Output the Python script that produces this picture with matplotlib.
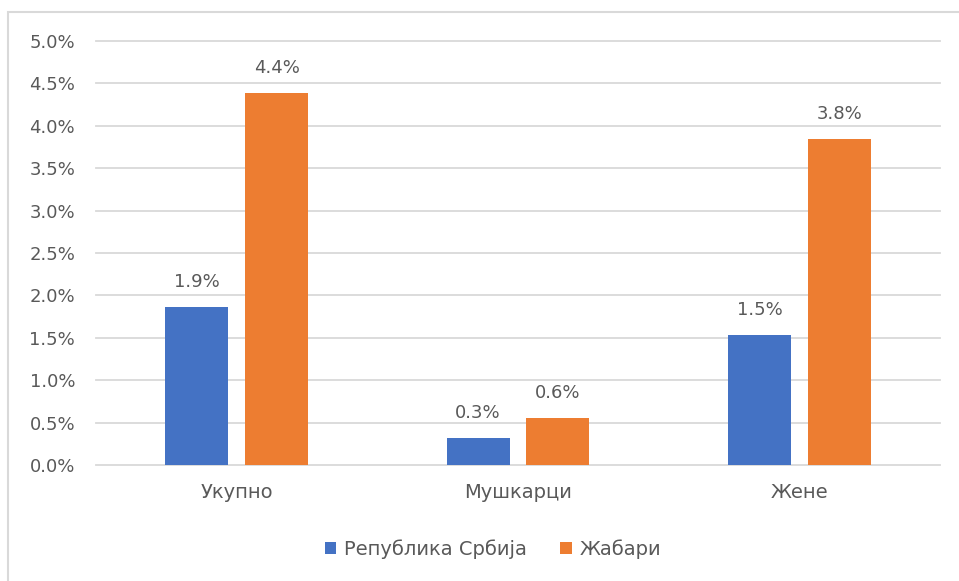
import matplotlib
matplotlib.use("Agg")
import matplotlib.pyplot as plt
from matplotlib.patches import Rectangle
import numpy as np

categories = ["Укупно", "Мушкарци", "Жене"]
serbia = [1.86, 0.32, 1.53]
zabari = [4.39, 0.55, 3.84]
serbia_labels = ["1.9%", "0.3%", "1.5%"]
zabari_labels = ["4.4%", "0.6%", "3.8%"]
series_names = ["Република Србија", "Жабари"]
yticks = [0.0, 0.5, 1.0, 1.5, 2.0, 2.5, 3.0, 3.5, 4.0, 4.5, 5.0]

plt.rcParams['font.family'] = ['DejaVu Sans']
txt = '#595959'
fs = 13
fs_cat = 14

W, H = 959, 581
fig = plt.figure(figsize=(W/100, H/100), dpi=100)
# figure border
fig.patches.append(Rectangle((8/W, -0.1), 1.2, (H-12)/H + 0.1, transform=fig.transFigure,
                             fill=False, edgecolor='#d9d9d9', linewidth=1.5))

ax = fig.add_axes([96/W, 1-465/H, (940-96)/W, (465-41)/H])
x = np.arange(len(categories))
bw = 0.224
off = 0.142
b1 = ax.bar(x - off, serbia, bw, color='#4472c4', label=series_names[0], zorder=3)
b2 = ax.bar(x + off, zabari, bw, color='#ed7d31', label=series_names[1], zorder=3)
for rect, lab in zip(b1, serbia_labels):
    ax.text(rect.get_x() + rect.get_width()/2, rect.get_height() + 0.19, lab,
            ha='center', va='bottom', fontsize=fs, color=txt)
for rect, lab in zip(b2, zabari_labels):
    ax.text(rect.get_x() + rect.get_width()/2, rect.get_height() + 0.19, lab,
            ha='center', va='bottom', fontsize=fs, color=txt)

ax.set_xlim(-0.5, 2.5)
ax.set_ylim(0, 5.0)
ax.set_yticks(yticks)
ax.set_yticklabels([f"{v:.1f}%" for v in yticks])
ax.set_xticks(x)
ax.set_xticklabels(categories)
ax.tick_params(axis='both', length=0, labelsize=fs, colors=txt)
ax.tick_params(axis='x', labelsize=fs_cat, pad=13)
ax.tick_params(axis='y', pad=15)
ax.grid(axis='y', color='#d9d9d9', linewidth=1.3, zorder=0)
for gl in ax.get_ygridlines():
    gl.set_clip_on(False)
for s in ax.spines.values():
    s.set_visible(False)

leg = fig.legend(handles=[b1, b2], labels=series_names, loc='center',
                 bbox_to_anchor=(0.514, 1-549/H), ncol=2, frameon=False,
                 fontsize=fs_cat, handlelength=0.6, handleheight=0.6,
                 columnspacing=1.7, handletextpad=0.4)
for t in leg.get_texts():
    t.set_color(txt)

fig.savefig("out.png", dpi=100)
